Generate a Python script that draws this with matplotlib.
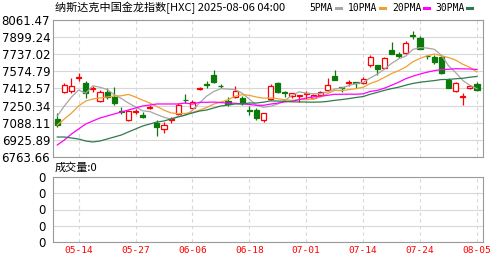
import matplotlib.pyplot as plt
import numpy as np
import pandas as pd

plt.rcParams['font.family'] = ['Noto Sans CJK SC', 'DejaVu Sans']

# trading days shown (05-09 .. 08-05)
dates = ['05-09', '05-12', '05-13', '05-14', '05-15', '05-16', '05-19', '05-20', '05-21', '05-22',
         '05-23', '05-27', '05-28', '05-29', '05-30', '06-02', '06-03', '06-04', '06-05', '06-06',
         '06-09', '06-10', '06-11', '06-12', '06-13', '06-16', '06-17', '06-18', '06-20', '06-23',
         '06-24', '06-25', '06-26', '06-27', '06-30', '07-01', '07-02', '07-03', '07-07', '07-08',
         '07-09', '07-10', '07-11', '07-14', '07-15', '07-16', '07-17', '07-18', '07-21', '07-22',
         '07-23', '07-24', '07-25', '07-28', '07-29', '07-30', '07-31', '08-01', '08-04', '08-05']

opens = [7124, 7379, 7389, 7512, 7465, 7408, 7294, 7379, 7332, 7199,
         7114, 7190, 7161, 7232, 7086, 7029, 7110, 7171, 7308, 7228,
         7408, 7455, 7540, 7440, 7294, 7332, 7323, 7209, 7209, 7114,
         7313, 7465, 7379, 7342, 7342, 7360, 7323, 7351, 7398, 7531,
         7427, 7460, 7474, 7465, 7635, 7635, 7607, 7777, 7739, 7749,
         7919, 7891, 7725, 7711, 7711, 7493, 7389, 7332, 7422, 7455]
highs = [7180, 7465, 7512, 7559, 7484, 7436, 7398, 7417, 7427, 7237,
         7209, 7218, 7190, 7256, 7114, 7095, 7142, 7275, 7360, 7304,
         7427, 7484, 7588, 7455, 7332, 7436, 7342, 7247, 7228, 7180,
         7455, 7474, 7389, 7370, 7351, 7389, 7360, 7389, 7512, 7588,
         7427, 7493, 7474, 7521, 7730, 7635, 7711, 7853, 7758, 7863,
         7957, 7910, 7725, 7730, 7720, 7512, 7474, 7370, 7446, 7474]
lows = [7048, 7370, 7370, 7484, 7323, 7379, 7285, 7313, 7256, 7171,
        7105, 7171, 7133, 7218, 6963, 6991, 7086, 7161, 7275, 7228,
        7398, 7417, 7465, 7417, 7247, 7323, 7256, 7161, 7114, 7095,
        7304, 7370, 7332, 7323, 7285, 7313, 7313, 7342, 7389, 7493,
        7379, 7436, 7417, 7455, 7616, 7540, 7597, 7739, 7701, 7739,
        7882, 7787, 7692, 7645, 7550, 7417, 7379, 7256, 7408, 7389]
closes = [7067, 7446, 7436, 7521, 7370, 7417, 7379, 7332, 7275, 7190,
          7199, 7199, 7142, 7242, 7048, 7067, 7119, 7256, 7299, 7285,
          7417, 7446, 7474, 7432, 7266, 7389, 7275, 7199, 7133, 7180,
          7436, 7379, 7370, 7370, 7351, 7370, 7351, 7379, 7446, 7493,
          7417, 7470, 7465, 7503, 7711, 7597, 7701, 7739, 7720, 7844,
          7910, 7787, 7716, 7663, 7559, 7417, 7465, 7342, 7432, 7398]

# moving average values before a full window is visible
ma5_head = [7152, 7247, 7332, 7398]
ma10_head = [7067, 7124, 7180, 7247, 7294, 7313, 7323, 7332, 7342]
ma20_head = [6877, 6925, 6982, 7029, 7076, 7105, 7133, 7152, 7171, 7190,
             7209, 7228, 7247, 7256, 7266, 7266, 7266, 7266, 7275]
ma30_head = [6953, 6953, 6944, 6934, 6915, 6906, 6915, 6934, 6953, 6972,
             7001, 7029, 7057, 7076, 7095, 7105, 7124, 7143, 7162, 7181,
             7199, 7209, 7228, 7247, 7256, 7266, 7266, 7275, 7275]

tick_dates = ['05-14', '05-27', '06-06', '06-18', '07-01', '07-14', '07-24', '08-05']
ymin, ymax = 6763.66, 8061.47
volume = 0

close_s = pd.Series(closes, dtype=float)
mas = {}
for n, head in [(5, ma5_head), (10, ma10_head), (20, ma20_head), (30, ma30_head)]:
    rolled = close_s.rolling(n).mean().to_numpy()
    rolled[:len(head)] = head
    mas[n] = rolled
ma_colors = {5: '#a6a6a6', 10: '#f0a030', 20: '#ff00ff', 30: '#2f7a4f'}

up_col = '#ff0000'
down_col = '#0b7a0b'
grid_col = '#d8d8d8'
frame_col = '#9a9a9a'

fig = plt.figure(figsize=(5.03, 2.62), dpi=100)
ax = fig.add_axes([53 / 503, 1 - 157 / 262, 430 / 503, 137 / 262])
axv = fig.add_axes([53 / 503, 1 - 242 / 262, 430 / 503, 65 / 262])

x = np.arange(len(dates))
tick_pos = [dates.index(d) for d in tick_dates]
xlim = (-0.6, len(dates) - 0.15)

# candles
for i in x:
    o, h, l, c = opens[i], highs[i], lows[i], closes[i]
    col = up_col if c >= o else down_col
    ax.vlines(i, l, h, color=col, linewidth=0.9, zorder=3)
    body = max(abs(c - o), 4)
    ax.bar(i, body, bottom=min(o, c), width=0.72,
           facecolor='white' if c >= o else down_col,
           edgecolor=col, linewidth=0.9, zorder=4)

for n in [5, 10, 20, 30]:
    ax.plot(x, mas[n], color=ma_colors[n], linewidth=0.9, zorder=5)

yt = np.linspace(ymin, ymax, 9)
ax.set_ylim(ymin, ymax)
ax.set_yticks(yt)
ax.set_yticklabels([f'{v:.2f}' for v in yt], fontsize=8.5, family='DejaVu Sans')
ax.set_xlim(*xlim)
ax.set_xticks(tick_pos)
ax.set_xticklabels([])
ax.grid(axis='y', color=grid_col, linewidth=0.8)
ax.grid(axis='x', color=grid_col, linewidth=0.8, linestyle=(0, (3, 3)))
ax.tick_params(length=0, pad=2)
ax.set_axisbelow(True)
for s in ax.spines.values():
    s.set_color(frame_col)

# volume panel (all zero)
axv.set_xlim(*xlim)
axv.set_ylim(0, 4)
axv.set_yticks(range(5))
axv.set_yticklabels(['0'] * 5, fontsize=8.5, family='DejaVu Sans')
axv.set_xticks(tick_pos)
axv.set_xticklabels(tick_dates, fontsize=6.8, color='#ff0000', family='DejaVu Sans Mono')
axv.grid(axis='y', color=grid_col, linewidth=0.8)
axv.grid(axis='x', color=grid_col, linewidth=0.8, linestyle=(0, (3, 3)))
axv.tick_params(length=0, pad=3)
axv.tick_params(axis='y', pad=5)
for s in axv.spines.values():
    s.set_color(frame_col)

fig.text(55 / 503, 1 - 8 / 262, '纳斯达克中国金龙指数[HXC] 2025-08-06 04:00',
         fontsize=8, va='center', ha='left')
fig.text(55 / 503, 1 - 168 / 262, f'成交量:{volume}', fontsize=8, va='center', ha='left')

# legend row
legend_x = {5: 309, 10: 348, 20: 392, 30: 435}
for n in [5, 10, 20, 30]:
    t = fig.text(legend_x[n] / 503, 1 - 8 / 262, f'{n}PMA', fontsize=7,
                 family='DejaVu Sans Mono', va='center', ha='left')
    fig.canvas.draw()
    bb = t.get_window_extent()
    fig.add_artist(plt.Line2D([(bb.x1 + 3) / 503, (bb.x1 + 8) / 503],
                              [1 - 8 / 262, 1 - 8 / 262],
                              color=ma_colors[n], linewidth=2.2))

fig.savefig('out.png', dpi=100)
